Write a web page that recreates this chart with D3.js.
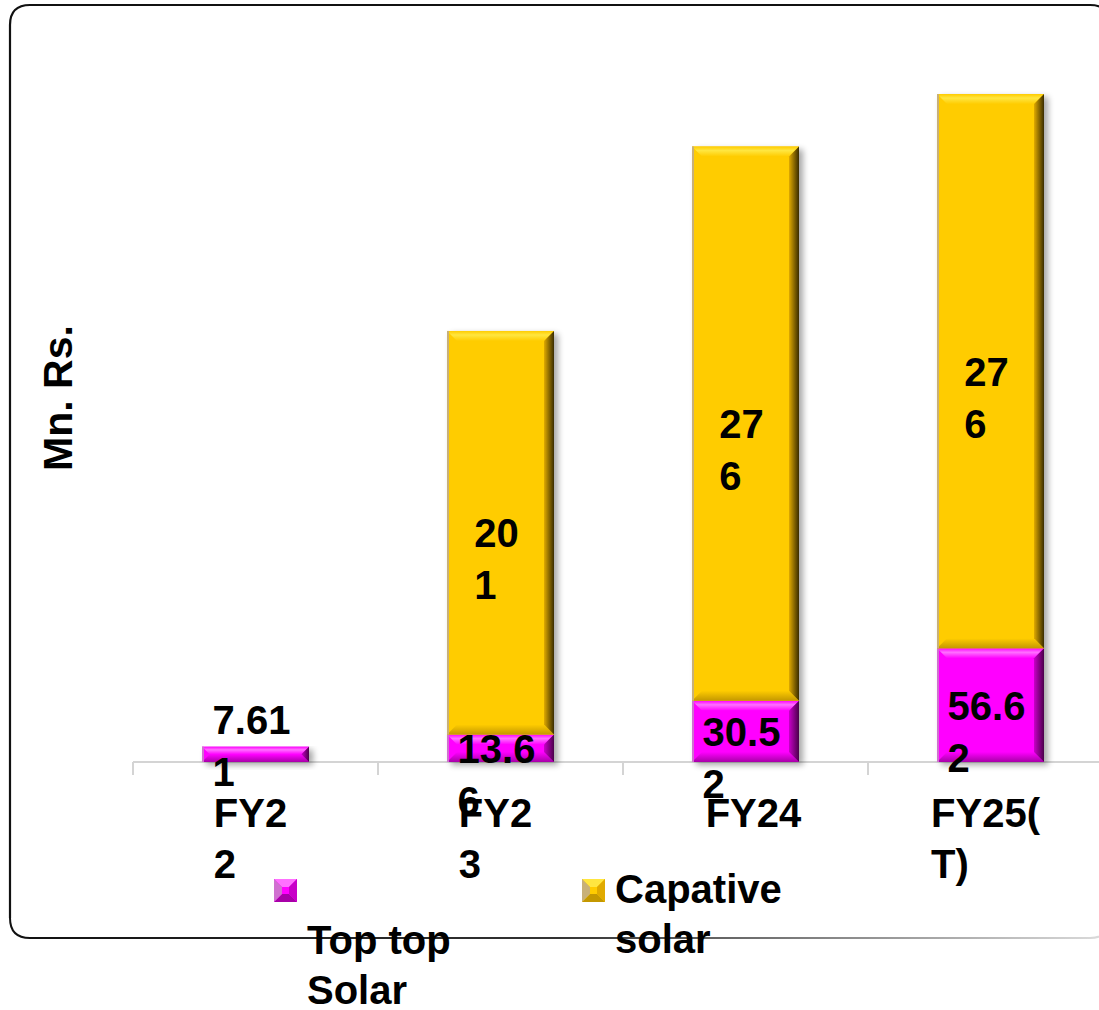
<!DOCTYPE html>
<html><head><meta charset="utf-8">
<script src="https://cdn.jsdelivr.net/npm/d3@7"></script>
<style>
html,body{margin:0;padding:0;background:#fff;}
svg{display:block;}
text{font-family:"Liberation Sans",Arial,Helvetica,sans-serif;font-weight:bold;fill:#000;}
</style></head>
<body>
<svg id="chart" width="1099" height="1010"></svg>
<script>
// ---- data ----
const categories = ["FY22", "FY23", "FY24", "FY25(T)"];
const tickLabels = [["FY2", "2"], ["FY2", "3"], ["FY24"], ["FY25(", "T)"]];
const seriesNames = ["Top top Solar", "Capative solar"];
const legendLines = [["Top top", "Solar"], ["Capative", "solar"]];
const rooftopValues = [7.611, 13.66, 30.52, 56.62];
const captiveValues = [0, 201, 276, 276];
const yTitle = "Mn. Rs.";

const svg = d3.select("#chart");
const defs = svg.append("defs");

const f = defs.append("filter").attr("id", "shadow").attr("x", "-20%").attr("y", "-20%").attr("width", "150%").attr("height", "150%");
f.append("feGaussianBlur").attr("stdDeviation", 3);

const palettes = [
  {main: "#FF00FF", top: "#FF70FF", edge: "#D070D0", right0: "#C800C8", right1: "#4a004a", bottom: "#A800A8"},
  {main: "#FFCC00", top: "#FFE640", edge: "#C8B078", right0: "#E0AA00", right1: "#3a2c00", bottom: "#C49800"}
];
palettes.forEach((p, i) => {
  const g = defs.append("linearGradient").attr("id", "rg" + i).attr("x1", 0).attr("x2", 1).attr("y1", 0).attr("y2", 0);
  g.append("stop").attr("offset", 0).attr("stop-color", p.right0);
  g.append("stop").attr("offset", 1).attr("stop-color", p.right1);
  const t = defs.append("linearGradient").attr("id", "tg" + i).attr("x1", 0).attr("x2", 0).attr("y1", 0).attr("y2", 1);
  t.append("stop").attr("offset", 0).attr("stop-color", p.main);
  t.append("stop").attr("offset", 0.4).attr("stop-color", p.top);
  t.append("stop").attr("offset", 1).attr("stop-color", p.main);
  const bt = defs.append("linearGradient").attr("id", "bg" + i).attr("x1", 0).attr("x2", 0).attr("y1", 0).attr("y2", 1);
  bt.append("stop").attr("offset", 0).attr("stop-color", p.main);
  bt.append("stop").attr("offset", 1).attr("stop-color", p.bottom);
});
const bl = defs.append("linearGradient").attr("id", "bottomLine").attr("x1", 0).attr("x2", 1).attr("y1", 0).attr("y2", 0);
bl.append("stop").attr("offset", 0).attr("stop-color", "#111");
bl.append("stop").attr("offset", 0.5).attr("stop-color", "#333");
bl.append("stop").attr("offset", 1).attr("stop-color", "#ddd");

// ---- frame ----
const fx0 = 10, fy0 = 5, fx1 = 1110, fy1 = 938, r = 20;
svg.append("path")
  .attr("d", `M${fx0},${fy1 - r} L${fx0},${fy0 + r} Q${fx0},${fy0} ${fx0 + r},${fy0} L${fx1 - r},${fy0} Q${fx1},${fy0} ${fx1},${fy0 + r} L${fx1},${fy1 - r}`)
  .attr("fill", "none").attr("stroke", "#111").attr("stroke-width", 2.2);
svg.append("path")
  .attr("d", `M${fx0},${fy1 - r} Q${fx0},${fy1} ${fx0 + r},${fy1} L${fx1 - r},${fy1} Q${fx1},${fy1} ${fx1},${fy1 - r}`)
  .attr("fill", "none").attr("stroke", "url(#bottomLine)").attr("stroke-width", 2);

// ---- scales ----
const plotLeft = 133, step = 245, baseY = 762, pxPerUnit = 2.008;
const pad = 1 - 107 / 245;
const x = d3.scaleBand().domain(categories).range([plotLeft, plotLeft + step * categories.length])
  .paddingInner(pad).paddingOuter(pad / 2);
const yMax = 350;
const y = d3.scaleLinear().domain([0, yMax]).range([baseY, baseY - yMax * pxPerUnit]);

// ---- axis ----
const axisG = svg.append("g");
axisG.append("line").attr("x1", x.range()[0]).attr("x2", x.range()[1]).attr("y1", y(0)).attr("y2", y(0))
  .attr("stroke", "#d4d4d4").attr("stroke-width", 2);
const tickXs = d3.range(categories.length + 1).map(i => x.range()[0] + i * x.step());
axisG.selectAll("line.tick").data(tickXs).join("line").attr("class", "tick")
  .attr("x1", d => d).attr("x2", d => d).attr("y1", y(0)).attr("y2", y(0) + 13)
  .attr("stroke", "#d4d4d4").attr("stroke-width", 2);

// ---- stacked data ----
const rows = categories.map((c, i) => ({cat: c, s0: rooftopValues[i], s1: captiveValues[i]}));
const stack = d3.stack().keys(["s0", "s1"])(rows);

const barsG = svg.append("g");
function bevelBar(g, x0, y0, w, h, pi) {
  const p = palettes[pi];
  const b = Math.min(10, h / 2, w / 2);
  g.append("rect").attr("x", x0).attr("y", y0).attr("width", w).attr("height", h).attr("fill", p.main);
  const poly = (pts, fill) => g.append("polygon").attr("points", pts.map(q => q.join(",")).join(" ")).attr("fill", fill);
  poly([[x0, y0], [x0 + w, y0], [x0 + w - b, y0 + b], [x0 + b, y0 + b]], `url(#tg${pi})`);
  poly([[x0, y0 + h], [x0 + w, y0 + h], [x0 + w - b, y0 + h - b], [x0 + b, y0 + h - b]], `url(#bg${pi})`);
  poly([[x0 + w, y0], [x0 + w - b, y0 + b], [x0 + w - b, y0 + h - b], [x0 + w, y0 + h]], `url(#rg${pi})`);
  g.append("rect").attr("x", x0).attr("y", y0).attr("width", 2).attr("height", h).attr("fill", p.edge);
}

rows.forEach((d) => {
  const top = d.s0 + d.s1;
  barsG.append("rect").attr("x", x(d.cat) + 4).attr("y", y(top) + 3).attr("width", x.bandwidth())
    .attr("height", y(0) - y(top)).attr("fill", "#000").attr("opacity", 0.35).attr("filter", "url(#shadow)");
});
stack.forEach((layer, li) => {
  layer.forEach((seg, i) => {
    if (seg[1] - seg[0] <= 0) return;
    const g = barsG.append("g");
    bevelBar(g, x(categories[i]), y(seg[1]), x.bandwidth(), y(seg[0]) - y(seg[1]), li);
  });
});

// ---- data labels ----
const FS = 40, LH = 52;
const labelsG = svg.append("g");
function wrapValue(v) {
  const s = String(v);
  return [s.slice(0, s.length - 1), s.slice(s.length - 1)];
}
function measure(t) {
  const tmp = svg.append("text").attr("font-size", FS).text(t);
  const w = tmp.node().getComputedTextLength();
  tmp.remove();
  return w;
}
stack.forEach((layer, li) => {
  layer.forEach((seg, i) => {
    const v = li === 0 ? rooftopValues[i] : captiveValues[i];
    if (!v) return;
    const lines = wrapValue(v);
    const cx = x(categories[i]) + x.bandwidth() / 2;
    let cy = (y(seg[0]) + y(seg[1])) / 2;
    if (y(seg[0]) - y(seg[1]) < 20) cy -= 35;
    const w = d3.max(lines, measure);
    const left = cx - w / 2 - 4;
    const t = labelsG.append("text").attr("font-size", FS);
    lines.forEach((ln, k) => {
      t.append("tspan").attr("x", left).attr("y", cy + 14.5 + k * LH).text(ln);
    });
  });
});

// ---- category labels ----
const catG = svg.append("g");
tickLabels.forEach((lines, i) => {
  const cx = x(categories[i]) + x.bandwidth() / 2;
  const w = d3.max(lines, measure);
  const left = lines.length > 1 ? cx - w / 2 - 5 : cx - w / 2 + 8;
  const t = catG.append("text").attr("font-size", FS);
  lines.forEach((ln, k) => t.append("tspan").attr("x", left).attr("y", 827 + k * 51).text(ln));
});

// ---- y title ----
svg.append("text").attr("font-size", 41).attr("text-anchor", "middle")
  .attr("transform", "translate(72,398) rotate(-90)").text(yTitle);

// ---- legend ----
const legendG = svg.append("g");
const legendItems = [
  {sx: 274, sy: 879, tx: 307, ty: 954},
  {sx: 582, sy: 879, tx: 615, ty: 903}
];
legendItems.forEach((it, i) => {
  const g = legendG.append("g").attr("aria-label", seriesNames[i]);
  const p = palettes[i];
  const s = 23, b = 8;
  const x0 = it.sx, y0 = it.sy;
  g.append("rect").attr("x", x0).attr("y", y0).attr("width", s).attr("height", s).attr("fill", p.main);
  const poly = (pts, fill) => g.append("polygon").attr("points", pts.map(q => q.join(",")).join(" ")).attr("fill", fill);
  poly([[x0, y0], [x0 + s, y0], [x0 + s - b, y0 + b], [x0 + b, y0 + b]], p.top);
  poly([[x0, y0 + s], [x0 + s, y0 + s], [x0 + s - b, y0 + s - b], [x0 + b, y0 + s - b]], p.bottom);
  poly([[x0, y0], [x0 + b, y0 + b], [x0 + b, y0 + s - b], [x0, y0 + s]], p.edge);
  poly([[x0 + s, y0], [x0 + s - b, y0 + b], [x0 + s - b, y0 + s - b], [x0 + s, y0 + s]], p.right0);
  const t = g.append("text").attr("font-size", FS);
  legendLines[i].forEach((ln, k) => t.append("tspan").attr("x", it.tx).attr("y", it.ty + k * 50).text(ln));
});
</script>
</body></html>
